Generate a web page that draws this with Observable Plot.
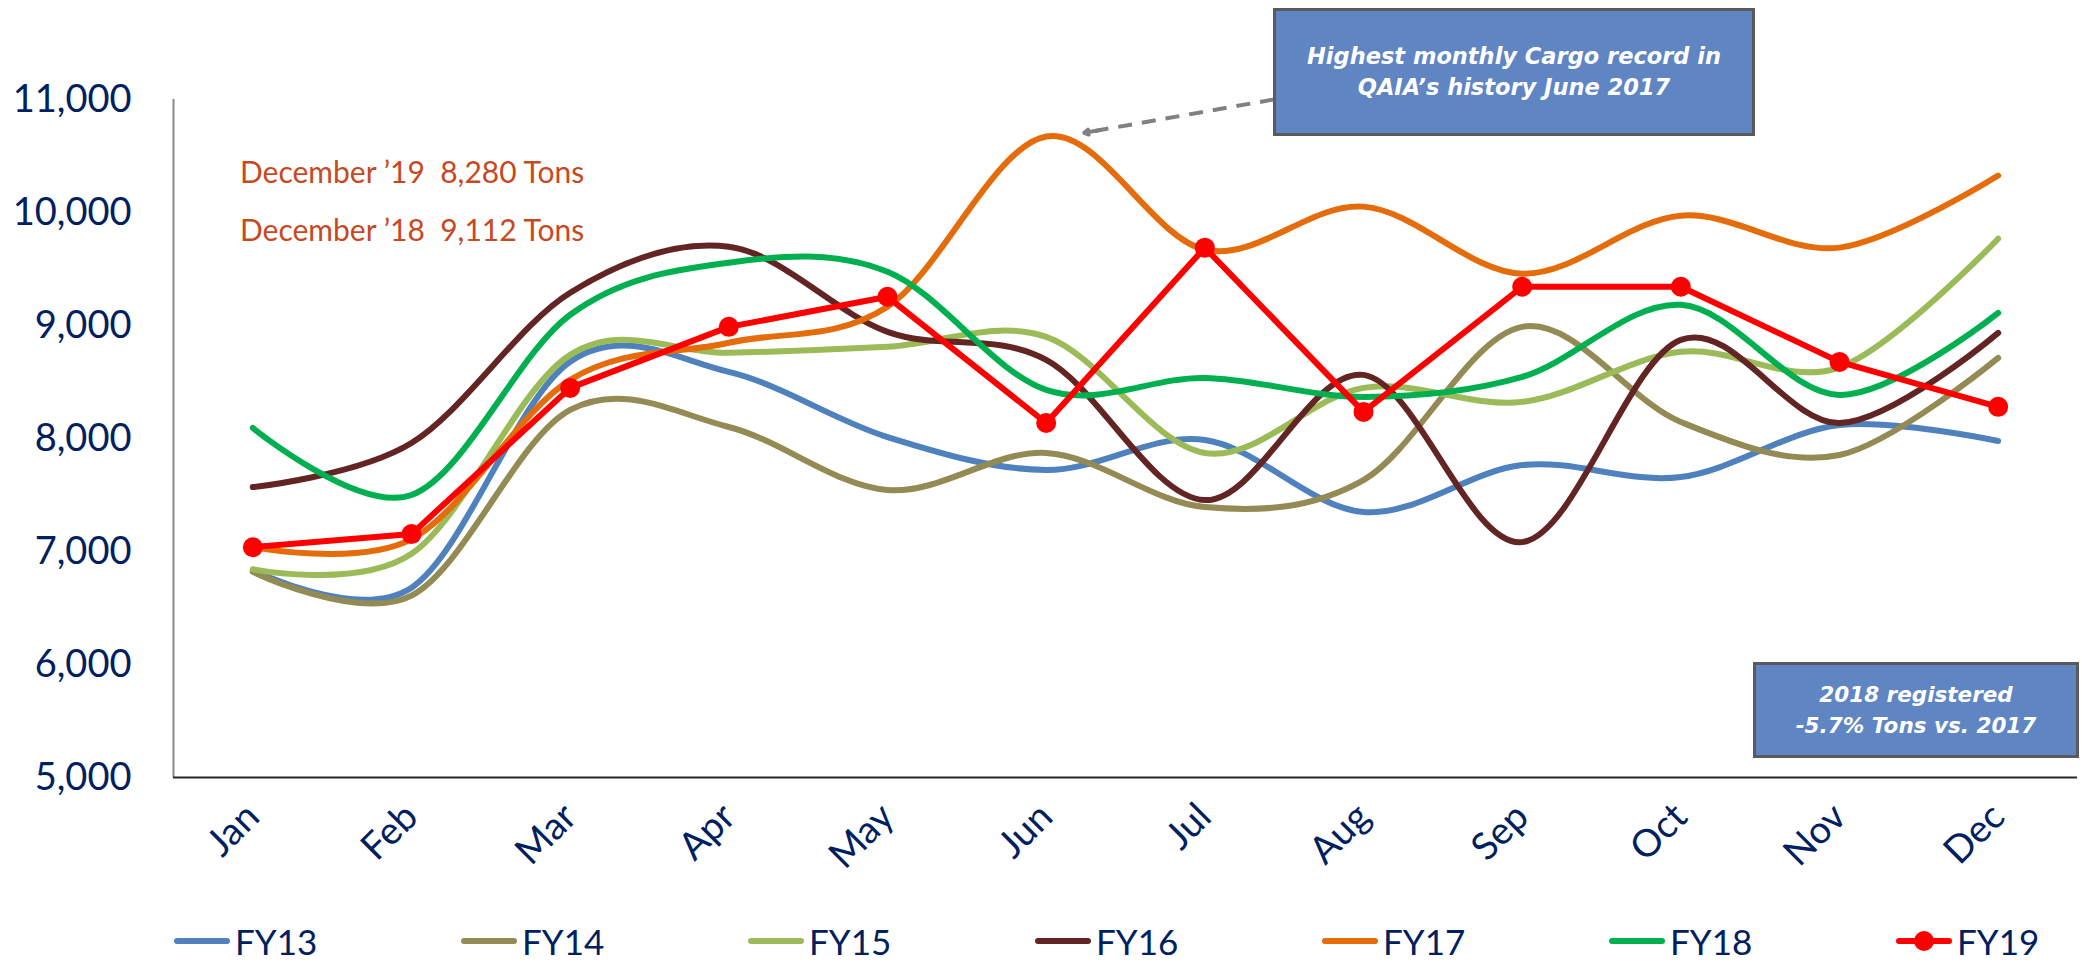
<!DOCTYPE html>
<html>
<head>
<meta charset="utf-8">
<script src="https://cdn.jsdelivr.net/npm/d3@7"></script>
<script src="https://cdn.jsdelivr.net/npm/@observablehq/plot@0.6"></script>
<style>
  html, body { margin: 0; padding: 0; background: #fff; }
  #wrap { position: relative; width: 2082px; height: 965px; overflow: hidden; font-family: Lato, "Open Sans", sans-serif; }
  .box { position: absolute; box-sizing: border-box; background: #6085C3; border: 3px solid #5a5a5a;
         color: #fff; font-family: "DejaVu Sans", sans-serif; font-weight: 700; font-style: italic;
         display: flex; flex-direction: column; justify-content: center; align-items: center; text-align: center; }
  .note { position: absolute; color: #C8481F; font-family: Lato, sans-serif; white-space: pre; }
  #legend { position: absolute; left: 0; top: 921px; height: 40px; display: flex; }
  .item { display: flex; align-items: center; width: 287px; height: 40px; }
  .item span { color: #002060; font-family: Lato, sans-serif; font-size: 35px; margin-left: 5px; line-height: 40px; }
</style>
</head>
<body>
<div id="wrap"></div>
<script>
// ---- data ----
const months = ["Jan","Feb","Mar","Apr","May","Jun","Jul","Aug","Sep","Oct","Nov","Dec"];
const seriesNames = ["FY13","FY14","FY15","FY16","FY17","FY18","FY19"];
const fy13 = [6835, 6680, 8680, 8590, 8013, 7721, 7987, 7349, 7765, 7659, 8120, 7978];
const fy14 = [6820, 6610, 8253, 8102, 7544, 7872, 7393, 7632, 8988, 8146, 7854, 8714];
const fy15 = [6843, 6980, 8740, 8758, 8811, 8900, 7872, 8448, 8324, 8767, 8630, 9768];
const fy16 = [7570, 7960, 9290, 9697, 8944, 8696, 7455, 8563, 7083, 8873, 8137, 8935];
const fy17 = [7040, 7110, 8519, 8847, 9166, 10672, 9671, 10052, 9458, 9972, 9689, 10327];
const fy18 = [8093, 7500, 9095, 9556, 9476, 8430, 8536, 8368, 8545, 9183, 8386, 9112];
const fy19 = [7038, 7154, 8448, 8988, 9254, 8137, 9689, 8235, 9343, 9343, 8678, 8280];
const yTicks = [5000, 6000, 7000, 8000, 9000, 10000, 11000];
const noteLines = ["December \u201919  8,280 Tons", "December \u201918  9,112 Tons"];
const box1Lines = ["Highest monthly Cargo record in", "QAIA\u2019s history June 2017"];
const box2Lines = ["2018 registered", "-5.7% Tons vs. 2017"];

// ---- styles ----
const colors = ["#4F81BD", "#948A54", "#9BBB59", "#632523", "#E46C0A", "#00B050", "#FF0000"];
const navy = "#002060";

const allSeries = [fy13, fy14, fy15, fy16, fy17, fy18, fy19];
const long = [];
allSeries.forEach((vals, s) => vals.forEach((v, i) => long.push({series: seriesNames[s], i, v})));
const smooth = long.filter(d => d.series !== "FY19");
const red = long.filter(d => d.series === "FY19");

// arrow annotation (in data units of the chart): dashed shaft + solid head
const arrowShaft = [{x1: 6.435, y1: 11000, x2: 5.26, y2: 10710}];
const arrowHead = [{x1: 5.33, y1: 10727, x2: 5.24, y2: 10705}];

const chart = Plot.plot({
  width: 2082,
  height: 905,
  marginLeft: 173,
  marginRight: 5,
  marginTop: 99,
  marginBottom: 128,
  style: {fontFamily: "Lato, 'Open Sans', sans-serif", fontSize: "37px", color: navy, background: "transparent", overflow: "visible"},
  x: {type: "linear", domain: [-0.5, 11.5]},
  y: {domain: [5000, 11000]},
  color: {domain: seriesNames, range: colors},
  marks: [
    Plot.axisY({ticks: yTicks, tickFormat: d3.format(","), tickSize: 0, tickPadding: 42, fontSize: 38, fill: navy}),
    Plot.axisX({ticks: d3.range(12), tickFormat: i => months[i], tickRotate: -45, tickSize: 0, tickPadding: 33, fontSize: 38, fill: navy}),
    Plot.ruleX([-0.5], {stroke: "#8a8a8a", strokeWidth: 2}),
    Plot.ruleY([5000], {stroke: "#262626", strokeWidth: 2}),
    Plot.line(smooth, {x: "i", y: "v", z: "series", stroke: "series", strokeWidth: 6, curve: "cardinal", strokeLinecap: "round", strokeLinejoin: "round"}),
    Plot.line(red, {x: "i", y: "v", stroke: colors[6], strokeWidth: 6, strokeLinejoin: "round"}),
    Plot.dot(red, {x: "i", y: "v", r: 10, fill: colors[6]}),
    Plot.link(arrowShaft, {x1: "x1", y1: "y1", x2: "x2", y2: "y2", stroke: "#808080", strokeWidth: 4, strokeDasharray: "14,10"}),
    Plot.arrow(arrowHead, {x1: "x1", y1: "y1", x2: "x2", y2: "y2", stroke: "#808080", strokeWidth: 4, headLength: 14, bend: false})
  ]
});

const wrap = document.getElementById("wrap");
wrap.appendChild(chart);

// red note lines
noteLines.forEach((t, k) => {
  const d = document.createElement("div");
  d.className = "note";
  d.textContent = t;
  d.style.left = "240px";
  d.style.top = (153 + k * 58) + "px";
  d.style.fontSize = "30px";
  wrap.appendChild(d);
});

function makeBox(lines, left, top, w, h, fs) {
  const b = document.createElement("div");
  b.className = "box";
  Object.assign(b.style, {left: left + "px", top: top + "px", width: w + "px", height: h + "px", fontSize: fs + "px", lineHeight: "31px"});
  lines.forEach(l => { const s = document.createElement("div"); s.textContent = l; b.appendChild(s); });
  wrap.appendChild(b);
}
makeBox(box1Lines, 1273, 8, 482, 128, 22.5);
makeBox(box2Lines, 1753, 662, 326, 96, 21.5);

// legend
const legend = document.createElement("div");
legend.id = "legend";
legend.style.left = "174px";
seriesNames.forEach((name, s) => {
  const it = document.createElement("div");
  it.className = "item";
  const sw = d3.create("svg").attr("width", 56).attr("height", 24);
  sw.append("line").attr("x1", 3).attr("x2", 53).attr("y1", 12).attr("y2", 12)
    .attr("stroke", colors[s]).attr("stroke-width", 6).attr("stroke-linecap", "round");
  if (name === "FY19") sw.append("circle").attr("cx", 28).attr("cy", 12).attr("r", 10).attr("fill", colors[s]);
  it.appendChild(sw.node());
  const sp = document.createElement("span");
  sp.textContent = name;
  it.appendChild(sp);
  legend.appendChild(it);
});
wrap.appendChild(legend);
</script>
</body>
</html>
